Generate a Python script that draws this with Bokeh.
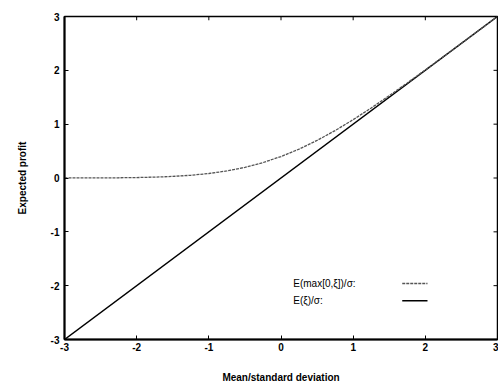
from bokeh.plotting import figure
from bokeh.models import Range1d, Label, FixedTicker
from bokeh.embed import file_html
from bokeh.resources import INLINE

# Mean / standard deviation (x) values
ratio = [-3.0, -2.75, -2.5, -2.25, -2.0, -1.75, -1.5, -1.25, -1.0, -0.75, -0.5, -0.25,
         0.0, 0.25, 0.5, 0.75, 1.0, 1.25, 1.5, 1.75, 2.0, 2.25, 2.5, 2.75, 3.0]
# E(max[0,xi])/sigma
exp_max = [0.0004, 0.0009, 0.0020, 0.0042, 0.0085, 0.0162, 0.0293, 0.0506, 0.0833, 0.1312,
           0.1978, 0.2864, 0.3989, 0.5364, 0.6978, 0.8812, 1.0833, 1.3006, 1.5293, 1.7662,
           2.0085, 2.2542, 2.5020, 2.7509, 3.0004]
# E(xi)/sigma (straight line)
exp_lin_x = [-3.0, 3.0]
exp_lin_y = [-3.0, 3.0]

ticks = [-3, -2, -1, 0, 1, 2, 3]
tick_labels = ["-3", "-2", "-1", "0", "1", "2", "3"]
legend_labels = ["E(max[0,ξ])/σ:", "E(ξ)/σ:"]

FONT = "Liberation Sans"

p = figure(width=498, height=385, output_backend="svg", toolbar_location=None,
           x_range=Range1d(-3, 3), y_range=Range1d(-3, 3),
           min_border_left=64, min_border_top=16, min_border_right=1, min_border_bottom=46)
p.background_fill_color = "white"
p.border_fill_color = "white"
p.outline_line_color = "black"
p.outline_line_width = 1.5
p.grid.visible = False

overrides = {t: l for t, l in zip(ticks, tick_labels)}
for ax in (p.xaxis[0], p.yaxis[0]):
    ax.ticker = FixedTicker(ticks=ticks)
    ax.major_label_overrides = overrides
    ax.major_tick_in = 4
    ax.major_tick_out = 0
    ax.minor_tick_in = 0
    ax.minor_tick_out = 0
    ax.axis_line_width = 2
    ax.axis_line_color = "black"
    ax.major_tick_line_color = "black"
    ax.major_label_text_font = FONT
    ax.major_label_text_font_style = "bold"
    ax.major_label_text_font_size = "10px"
    ax.major_label_text_color = "black"
    ax.axis_label_text_font = FONT
    ax.axis_label_text_font_style = "bold"
    ax.axis_label_text_font_size = "10px"
    ax.axis_label_text_color = "black"

p.xaxis.axis_label = "Mean/standard deviation"
p.yaxis.axis_label = "Expected profit"
p.xaxis.major_label_standoff = 3
p.xaxis.axis_label_standoff = 18
p.yaxis.major_label_standoff = 5
p.yaxis.axis_label_standoff = 20

# inward tick marks on the top and right frame edges
inner = ticks[1:-1]
p.segment(x0=inner, y0=[3.0] * len(inner), x1=inner, y1=[2.93] * len(inner),
          line_color="black", line_width=1)
p.segment(x0=[3.0] * len(inner), y0=inner, x1=[2.945] * len(inner), y1=inner,
          line_color="black", line_width=1)

p.line(exp_lin_x, exp_lin_y, line_color="black", line_width=1.5)
p.line(ratio, exp_max, line_color="#555555", line_width=1.3, line_dash="3 1")

# legend (text left, sample right)
leg_y = [-1.96, -2.28]
styles = [dict(line_color="#555555", line_width=1.3, line_dash="3 1"),
          dict(line_color="black", line_width=1.5)]
for lab, yy, st in zip(legend_labels, leg_y, styles):
    p.add_layout(Label(x=0.17, y=yy, text=lab, text_font=FONT, text_font_size="10px",
                       text_baseline="middle", text_color="black"))
    p.segment(x0=[1.68], y0=[yy], x1=[2.03], y1=[yy], **st)

open("out.html", "w").write(file_html(p, INLINE))
